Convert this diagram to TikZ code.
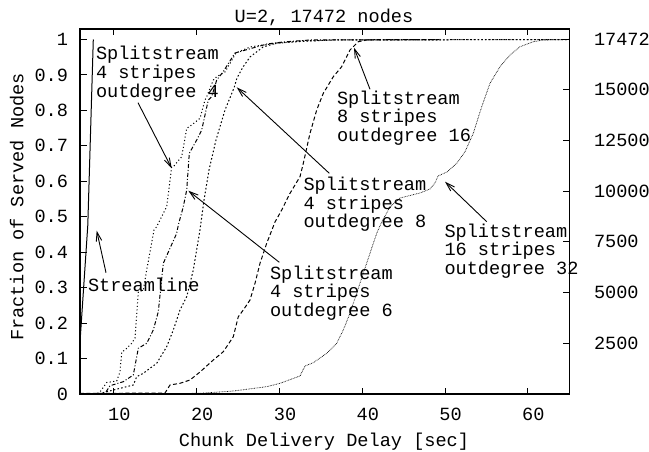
\documentclass[tikz,border=0pt]{standalone}
\usepackage{fontspec}
\newfontfamily\gpfont{Liberation Mono}
\usetikzlibrary{arrows.meta}

\begin{document}
\begin{tikzpicture}[x=1bp,y=-1bp,
  every node/.style={font=\gpfont\fontsize{18.6bp}{18.6bp}\selectfont, inner sep=0pt, outer sep=0pt},
  frame/.style={line width=1.3bp},
  tickmark/.style={line width=1bp},
  curve/.style={line width=1bp, line join=round},
  sdot/.style={curve, dash pattern=on 1.1bp off 2.4bp},
  sdashdot/.style={curve, dash pattern=on 4bp off 2bp on 1bp off 2bp},
  sshort/.style={curve, dash pattern=on 1.6bp off 2.2bp},
  sdash/.style={curve, dash pattern=on 4bp off 2.5bp},
  sfine/.style={line width=0.7bp, dash pattern=on 0.7bp off 0.9bp},
  annot/.style={align=left, anchor=base west},
  pointer/.style={line width=0.9bp, -{Straight Barb[length=9bp,width=5.5bp]}}]

\useasboundingbox (0,0) rectangle (649,452);

% plot frame
\draw[frame] (80,29) rectangle (569.5,394);

% left axis: fraction of served nodes
\foreach \f/\lab [count=\i] in {0/0,0.1/0.1,0.2/0.2,0.3/0.3,0.4/0.4,0.5/0.5,0.6/0.6,0.7/0.7,0.8/0.8,0.9/0.9,1/1}{
  \pgfmathsetmacro{\py}{394-354.5*\f}
  \draw[tickmark] (80,\py) -- (87,\py);
  \node[anchor=east, name=yl\i] at (68,\py) {\lab};
}

% right axis: number of nodes (same scale, 17472 nodes = 1)
\foreach \c/\py [count=\i] in {2500/343.3,5000/292.6,7500/241.8,10000/191.1,12500/140.4,15000/89.7,17472/39.5}{
  \draw[tickmark] (569.5,\py) -- (563,\py);
  \node[anchor=west, name=yr\i] at (594,\py) {\c};
}

% bottom axis: delay in seconds
\foreach \s [count=\i] in {10,20,30,40,50,60}{
  \pgfmathsetmacro{\px}{113.9+(\s-10)*8.28}
  \draw[tickmark] (\px,394) -- (\px,388);
  \draw[tickmark] (\px,29) -- (\px,35);
  \node[anchor=base, name=xl\i] at (\px+5.5,420) {\s};
}

% titles
\node[anchor=base] (title) at (324,22.7) {U=2, 17472 nodes};
\node[anchor=base] (xlabel) at (324,446) {Chunk Delivery Delay [sec]};
\node[anchor=base, rotate=90] (ylabel) at (23.3,207) {Fraction of Served Nodes};

% Streamline
\draw[curve] (80,342) -- (87.8,225) -- (93.3,39.5);

% Splitstream, 4 stripes, outdegree 4
\draw[sdot] plot coordinates {(80,394) (97,393.5) (100,392) (106.7,382.5) (116.7,381) (120,372)
 (121.7,352) (125,350) (131.7,343.3) (135,338) (138.3,292) (143.3,290) (146.7,270) (154,230)
 (156.7,226.7) (166.7,206.7) (171.7,167) (173.3,166.7) (181.7,156.7) (186.7,128.3) (191.7,125)
 (200,118.3) (205,100) (206.7,96.7) (213.3,80) (216.7,76.7) (225,72) (236,53) (250,47) (263,45)
 (300,41) (333,40) (569.5,39.5)};

% Splitstream, 4 stripes, outdegree 6
\draw[sdashdot] plot coordinates {(80,394) (105,393.5) (110,385.7) (123.3,381.7) (133.3,375)
 (138.3,348.3) (146.7,343.3) (153.3,330) (158.3,311.7) (163.3,263.3) (170,248.3) (176.7,233.3)
 (178.3,225) (183.3,206.7) (186.7,190) (189.3,153.3) (196.7,140) (201.7,130) (208.3,100)
 (211.7,96.7) (216.7,80) (223,72) (235,53) (267,44) (283,42) (310,40) (440,39.5)};

% Splitstream, 4 stripes, outdegree 8
\draw[sshort] plot coordinates {(80,394) (100,393.5) (106.7,391.7) (133.3,385) (136.7,376.7)
 (143.3,373.3) (156.7,363.3) (166.7,346.7) (173.3,330) (180,310) (186.7,296.7) (193.3,270)
 (200,230) (204,200) (209,170) (216,140) (225,110) (234,88) (237,78) (243,67) (250,57)
 (263,47) (277,43) (300,41.5) (333,40) (569.5,39.5)};

% Splitstream, 8 stripes, outdegree 16
\draw[sdash] plot coordinates {(80,393.5) (165,393) (170,385) (180,383.3) (190,380) (200,372)
 (213.3,360) (223.3,351.7) (233.3,336.7) (238.3,316.7) (243.3,310) (250,300) (255,283.3)
 (260,263.3) (266.7,243.3) (275,222) (281.7,210) (290,193.3) (300,176.7) (303.3,163.3)
 (310,133.3) (316.7,110) (323.3,93.3) (333.3,76.7) (341.7,66.7) (350,50) (358.3,41.7)
 (366.7,40) (440,39.5)};

% Splitstream, 16 stripes, outdegree 32
\draw[sfine] plot coordinates {(80,394) (200,393.3) (233.3,391) (266.7,386.7) (280,383.3)
 (300,376) (305,366) (313.3,362.7) (326.7,353.3) (336.7,343.3) (343.3,330) (350,313.3)
 (356.7,293.3) (363.3,273.3) (370,253.3) (376.7,233.3) (381.7,222) (390,207) (400,198)
 (420,193) (430,189) (435,183) (438,176) (447,172) (457,163) (465,151.7) (473.3,133.3)
 (481.7,106.7) (490,83.3) (500,66.7) (510,55) (520,46.7) (533.3,41.7) (543.3,40) (569.5,39.5)};

% curve labels (anchored at the baseline of their last line)
\node[annot] (lab4)  at (96,97.2)     {Splitstream\\4 stripes\\outdegree 4};
\node[annot] (lab16) at (337,141.5)   {Splitstream\\8 stripes\\outdegree 16};
\node[annot] (lab8)  at (303.5,227.9) {Splitstream\\4 stripes\\outdegree 8};
\node[annot] (lab6)  at (270,316.5)   {Splitstream\\4 stripes\\outdegree 6};
\node[annot] (lab32) at (444.5,274.5) {Splitstream\\16 stripes\\outdegree 32};
\node[annot] (labsl) at (88,291.7)    {Streamline};

% label pointers
\coordinate (p4s) at (138,102.7);   \coordinate (p4e) at (171.7,168.3);
\coordinate (p16s) at (370,89.3);   \coordinate (p16e) at (354,47.7);
\coordinate (p8s) at (329.3,173.3); \coordinate (p8e) at (236.7,87.3);
\coordinate (p6s) at (279.3,262.3); \coordinate (p6e) at (188.3,190.7);
\coordinate (p32s) at (486.7,221.7);\coordinate (p32e) at (445,181.7);
\coordinate (psls) at (106,272.7);  \coordinate (psle) at (96.7,230.7);
\draw[pointer] (p4s) -- (p4e);
\draw[pointer] (p16s) -- (p16e);
\draw[pointer] (p8s) -- (p8e);
\draw[pointer] (p6s) -- (p6e);
\draw[pointer] (p32s) -- (p32e);
\draw[pointer] (psls) -- (psle);

\end{tikzpicture}
\end{document}
